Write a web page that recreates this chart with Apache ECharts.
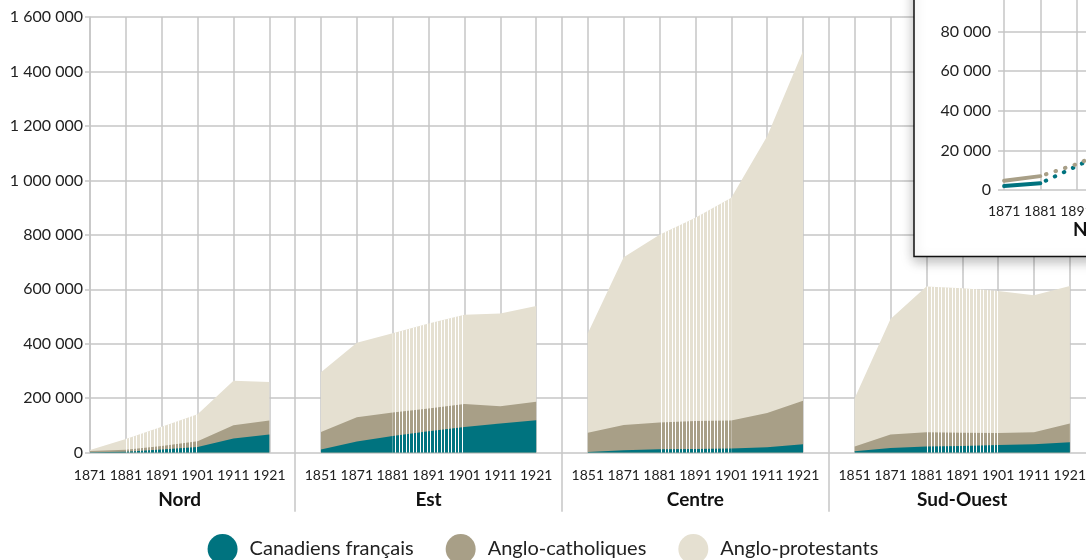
<!DOCTYPE html>
<html lang="fr">
<head>
<meta charset="utf-8">
<title>Population par groupe et par région, 1851-1921</title>
<script src="https://cdn.jsdelivr.net/npm/echarts@6/dist/echarts.min.js"></script>
<style>
  html, body { margin: 0; padding: 0; background: #fff; }
  #chart { width: 1086px; height: 560px; }
</style>
</head>
<body>
<div id="chart"></div>
<script>
// regions and census years (Nord starts in 1871)
const regions = ['Nord', 'Est', 'Centre', 'Sud-Ouest'];
const years = [
  ['1871', '1881', '1891', '1901', '1911', '1921'],
  ['1851', '1871', '1881', '1891', '1901', '1911', '1921'],
  ['1851', '1871', '1881', '1891', '1901', '1911', '1921'],
  ['1851', '1871', '1881', '1891', '1901', '1911', '1921']
];
// years shown with the hatched (estimated) fill
const hatchedYears = ['1881', '1891', '1901'];

// one row per region, same order as `regions`
const canadiensFrancais = [
  [2000, 3400, 12000, 21000, 52000, 67000],
  [12000, 41000, 61000, 79000, 94000, 107000, 119000],
  [3000, 9000, 13000, 14000, 15000, 20000, 31000],
  [5000, 17000, 23000, 25000, 28000, 31000, 38000]
];
const angloCatholiques = [
  [4700, 7000, 13000, 21000, 49000, 51000],
  [64000, 89000, 87000, 83000, 85000, 64000, 68000],
  [70000, 93000, 98000, 102000, 103000, 126000, 160000],
  [18000, 50000, 52000, 48000, 44000, 44000, 69000]
];
const angloProtestants = [
  [3300, 40000, 70000, 99000, 163000, 142000],
  [219000, 274000, 291000, 312000, 328000, 340000, 352000],
  [366000, 616000, 689000, 747000, 818000, 1016000, 1284000],
  [177000, 424000, 535000, 531000, 522000, 503000, 505000]
];

const seriesNames = ['Canadiens français', 'Anglo-catholiques', 'Anglo-protestants'];
const colors = ['#00737f', '#a89f87', '#e5e0d1'];
const gridColor = '#c6c6c6';
const FONT = 'Lato';

// inset shows Nord, first two groups, as lines
const insetYears = years[0].map(Number);
const insetValues = [canadiensFrancais[0], angloCatholiques[0]];

const fmt = v => String(v).replace(/\B(?=(\d{3})+(?!\d))/g, ' ');

// x layout: one unit per census column, a gap between regions
const GAP = 1.44;
const offsets = [];
let acc = 0;
regions.forEach((r, k) => { offsets.push(acc); acc += years[k].length - 1 + GAP; });
const separators = regions.slice(1).map((r, k) => offsets[k + 1] - GAP / 2).concat([acc - GAP / 2]);
const centers = regions.map((r, k) => offsets[k] + (years[k].length - 1) / 2);
const yearPos = [];
const labelMap = {};
regions.forEach((r, k) => years[k].forEach((y, i) => {
  const p = offsets[k] + i;
  yearPos.push(p);
  labelMap[p.toFixed(4)] = y;
}));
regions.forEach((r, k) => { labelMap['c' + centers[k].toFixed(4)] = r; });

// white vertical stripes for the estimated years
const hatch = document.createElement('canvas');
hatch.width = 7; hatch.height = 4;
const hctx = hatch.getContext('2d');
hctx.fillStyle = '#ffffff';
hctx.fillRect(0, 0, 1, 4);
hctx.fillRect(3, 0, 1, 4);

const series = [];
const groups = [canadiensFrancais, angloCatholiques, angloProtestants];
regions.forEach((region, r) => {
  const xs = years[r].map((y, i) => offsets[r] + i);
  // cumulative tops, drawn from the largest down so each band shows
  const tops = groups.map((g, s) => years[r].map((y, i) => groups.slice(0, s + 1).reduce((a, gg) => a + gg[r][i], 0)));
  [2, 1, 0].forEach(s => {
    series.push({
      name: seriesNames[s],
      type: 'line',
      color: colors[s],
      data: tops[s].map((v, i) => [xs[i], v]),
      symbol: 'none',
      lineStyle: { width: 0 },
      areaStyle: { color: colors[s], opacity: 1 },
      emphasis: { disabled: true },
      silent: true,
      z: 2
    });
  });
  const hatchData = [];
  years[r].forEach((y, i) => {
    if (hatchedYears.includes(y)) hatchData.push([xs[i], tops[2][i]]);
  });
  series.push({
    name: 'hatch-' + region,
    type: 'line',
    data: hatchData,
    symbol: 'none',
    lineStyle: { width: 0 },
    areaStyle: { color: { image: hatch, repeat: 'repeat' }, opacity: 1 },
    emphasis: { disabled: true },
    silent: true,
    z: 3
  });
});

// inset lines: solid where counted, dotted over the estimated years
const innerHatched = hatchedYears.slice(1, -1);
insetValues.forEach((vals, s) => {
  series.push({
    name: 'inset-' + s,
    type: 'line',
    xAxisIndex: 2, yAxisIndex: 1,
    data: insetYears.map((y, i) => [y, innerHatched.includes(String(y)) ? null : vals[i]]),
    connectNulls: false,
    symbol: 'none',
    color: colors[s],
    lineStyle: { width: 4, color: colors[s], cap: 'round' },
    emphasis: { disabled: true },
    silent: true,
    z: 12
  });
  series.push({
    name: 'inset-dot-' + s,
    type: 'line',
    xAxisIndex: 2, yAxisIndex: 1,
    data: insetYears.map((y, i) => [y, vals[i]]).filter(d => hatchedYears.includes(String(d[0]))),
    symbol: 'none',
    color: colors[s],
    lineStyle: { width: 4, color: colors[s], type: [0.5, 9.5], cap: 'round', dashOffset: -6 },
    emphasis: { disabled: true },
    silent: true,
    z: 12
  });
});

const chart = echarts.init(document.getElementById('chart'));
const option = {
  animation: false,
  textStyle: { fontFamily: FONT },
  grid: [
    { left: 90, top: 17, width: 1015, height: 435.7, outerBoundsMode: 'none' },
    { left: 998, top: -8, width: 193, height: 198, outerBoundsMode: 'none' }
  ],
  graphic: {
    elements: [{
      type: 'rect',
      z: 10,
      silent: true,
      shape: { x: 914, y: -20, width: 420, height: 276.5 },
      style: {
        fill: '#ffffff', stroke: '#111', lineWidth: 1.5,
        shadowBlur: 12, shadowOffsetY: 4, shadowColor: 'rgba(0,0,0,0.28)'
      }
    }]
  },
  legend: {
    data: seriesNames,
    left: 'center',
    top: 529,
    icon: 'circle',
    itemWidth: 30,
    itemHeight: 30,
    itemGap: 32,
    selectedMode: false,
    textStyle: { fontFamily: FONT, fontSize: 20, color: '#222', padding: [0, 0, 0, 7] }
  },
  xAxis: [
    {
      gridIndex: 0,
      type: 'value',
      position: 'bottom',
      min: 0,
      max: 28.3,
      axisLine: { show: false },
      axisTick: { show: false, customValues: yearPos.concat(separators) },
      splitLine: { show: true, lineStyle: { color: gridColor, width: 1.5 } },
      axisLabel: {
        customValues: yearPos,
        formatter: v => labelMap[v.toFixed(4)] || '',
        fontFamily: FONT, fontSize: 14, color: '#222', margin: 16
      }
    },
    {
      gridIndex: 0,
      type: 'value',
      position: 'bottom',
      min: 0,
      max: 28.3,
      axisLine: { show: false },
      axisTick: {
        show: true, customValues: separators, length: 59,
        lineStyle: { color: gridColor, width: 1.5 }
      },
      splitLine: { show: false },
      axisLabel: {
        customValues: centers,
        formatter: v => labelMap['c' + v.toFixed(4)] || '',
        fontFamily: FONT, fontSize: 19, fontWeight: 'bold', color: '#111', margin: 38
      }
    },
    {
      gridIndex: 1,
      type: 'value',
      min: 1869.3,
      max: 1922.7,
      z: 11,
      axisLine: { show: false },
      axisTick: { show: false, customValues: insetYears },
      splitLine: { show: true, lineStyle: { color: gridColor, width: 1.5 } },
      axisLabel: {
        customValues: insetYears,
        formatter: v => String(Math.round(v)),
        fontFamily: FONT, fontSize: 14, color: '#222', margin: 14
      },
      name: regions[0],
      nameLocation: 'middle',
      nameGap: 30,
      nameTextStyle: { fontFamily: FONT, fontSize: 19, fontWeight: 'bold', color: '#111' }
    }
  ],
  yAxis: [
    {
      gridIndex: 0,
      type: 'value',
      min: 0,
      max: 1600000,
      interval: 200000,
      axisLine: { show: true, lineStyle: { color: gridColor, width: 1.5 } },
      axisTick: { show: true, length: 5, lineStyle: { color: gridColor, width: 1.5 } },
      splitLine: { show: true, lineStyle: { color: gridColor, width: 1.5 } },
      axisLabel: { formatter: fmt, fontFamily: FONT, fontSize: 16, color: '#222', margin: 7 }
    },
    {
      gridIndex: 1,
      type: 'value',
      min: 0,
      max: 100000,
      interval: 20000,
      z: 11,
      axisLine: { show: false },
      axisTick: { show: false },
      splitLine: { show: true, lineStyle: { color: gridColor, width: 1.5 } },
      axisLabel: { formatter: fmt, fontFamily: FONT, fontSize: 16, color: '#222', margin: 7 }
    }
  ],
  series: series
};
chart.setOption(option);
</script>
</body>
</html>
